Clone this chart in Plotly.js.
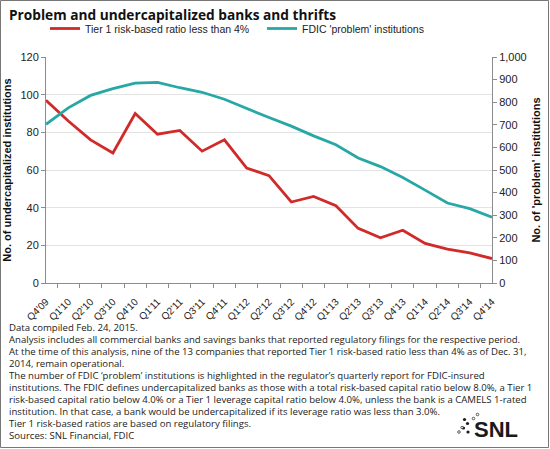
<!DOCTYPE html>
<html>
<head>
<meta charset="utf-8">
<script src="https://cdn.plot.ly/plotly-3.0.1.min.js"></script>
<style>
  html, body { margin: 0; padding: 0; background: #fff; }
  #chart { width: 550px; height: 449px; }
</style>
</head>
<body>
<div id="chart"></div>
<script>
// Quarter labels, Q4 2009 through Q4 2014
const quarters = ["Q4'09","Q1'10","Q2'10","Q3'10","Q4'10","Q1'11","Q2'11","Q3'11","Q4'11",
  "Q1'12","Q2'12","Q3'12","Q4'12","Q1'13","Q2'13","Q3'13","Q4'13","Q1'14","Q2'14","Q3'14","Q4'14"];

// Banks and thrifts reporting a Tier 1 risk-based ratio below 4% (left axis)
const tier1Below4 = [97, 86, 76, 69, 90, 79, 81, 70, 76, 61, 57, 43, 46, 41, 29, 24, 28, 21, 18, 16, 13];

// FDIC 'problem' institutions (right axis)
const fdicProblem = [702, 775, 830, 860, 884, 888, 864, 844, 813, 772, 732, 694, 651, 612, 553, 515, 467, 411, 354, 329, 291];

const seriesNames = ["Tier 1 risk-based ratio less than 4%", "FDIC 'problem' institutions"];

const chartTitle = "Problem and undercapitalized banks and thrifts";
const leftAxisTitle = "No. of undercapitalized institutions";
const rightAxisTitle = "No. of 'problem' institutions";

const notes = [
  "Data compiled Feb. 24, 2015.",
  "Analysis includes all commercial banks and savings banks that reported regulatory filings for the respective period.",
  "At the time of this analysis, nine of the 13 companies that reported Tier 1 risk-based ratio less than 4% as of Dec. 31,",
  "2014, remain operational.",
  "The number of FDIC \u2018problem\u2019 institutions is highlighted in the regulator\u2019s quarterly report for FDIC-insured",
  "institutions. The FDIC defines undercapitalized banks as those with a total risk-based capital ratio below 8.0%, a Tier 1",
  "risk-based capital ratio below 4.0% or a Tier 1 leverage capital ratio below 4.0%, unless the bank is a CAMELS 1-rated",
  "institution. In that case, a bank would be undercapitalized if its leverage ratio was less than 3.0%.",
  "Tier 1 risk-based ratios are based on regulatory filings.",
  "Sources: SNL Financial, FDIC"
];

const W = 550, H = 449;
const M = { l: 46, r: 58, t: 57, b: 166 };
const plotH = H - M.t - M.b;
const plotW = W - M.l - M.r;
// pixel -> paper helpers for page furniture
const px = x => (x - M.l) / plotW;
const py = y => (H - M.b - y) / plotH;

const axisGrey = "#8c8c8c";
const arial = "Liberation Sans, Arial, sans-serif";
const humanist = "Open Sans, Noto Sans, sans-serif";

const traces = [
  {
    x: quarters, y: tier1Below4, name: seriesNames[0], type: "scatter", mode: "lines",
    line: { color: "#d02a29", width: 2.8 }, yaxis: "y"
  },
  {
    x: quarters, y: fdicProblem, name: seriesNames[1], type: "scatter", mode: "lines",
    line: { color: "#27a8a6", width: 2.8 }, yaxis: "y2"
  }
];

const annotations = [
  {
    text: "<b>" + chartTitle + "</b>", xref: "paper", yref: "paper",
    x: px(7), y: py(14), xanchor: "left", yanchor: "middle", showarrow: false,
    font: { family: humanist, size: 13.7, color: "#111" }
  }
];
notes.forEach((line, i) => {
  annotations.push({
    text: line, xref: "paper", yref: "paper",
    x: px(7), y: py(327 + i * 12.1), xanchor: "left", yanchor: "middle", showarrow: false,
    font: { family: humanist, size: 9.6, color: "#222" }
  });
});
annotations.push({
  text: "<b>SNL</b>", xref: "paper", yref: "paper",
  x: px(472), y: py(429), xanchor: "left", yanchor: "middle", showarrow: false,
  font: { family: arial, size: 22, color: "#1a1a1a" }
});

// logo dots: filled and hollow circles
const dots = [
  [464.5, 419.5, 1.6, true], [467.5, 423.5, 1.6, true], [463.5, 428, 1.6, true], [468, 432, 1.6, true],
  [459, 432, 1.3, false], [473.5, 418.5, 1.3, false], [477.5, 414.5, 1.3, false], [462, 427.5, 1.2, false]
];
const shapes = [
  { type: "rect", xref: "paper", yref: "paper", x0: px(0.5), x1: px(548.5), y0: py(0.5), y1: py(447.5),
    line: { color: "#777", width: 1 }, fillcolor: "rgba(0,0,0,0)", layer: "below" }
];
dots.forEach(d => {
  shapes.push({
    type: "circle", xref: "paper", yref: "paper",
    x0: px(d[0] - d[2]), x1: px(d[0] + d[2]), y0: py(d[1] + d[2]), y1: py(d[1] - d[2]),
    line: { color: "#333", width: d[3] ? 0 : 0.8 }, fillcolor: d[3] ? "#1a1a1a" : "#fff"
  });
});

const layout = {
  width: W, height: H,
  margin: M,
  paper_bgcolor: "#fff", plot_bgcolor: "#fff",
  font: { family: arial, size: 11, color: "#222" },
  showlegend: true,
  legend: {
    orientation: "h", x: px(45), y: py(28.5), xanchor: "left", yanchor: "middle",
    font: { family: arial, size: 10.5, color: "#222" }, itemwidth: 30, entrywidth: 172,
    bgcolor: "rgba(0,0,0,0)"
  },
  xaxis: {
    type: "category", showgrid: false, showline: true, linecolor: axisGrey, linewidth: 1,
    ticks: "outside", tickson: "boundaries", ticklen: 4, tickcolor: axisGrey,
    tickangle: -45, ticklabelstandoff: 8,
    tickfont: { family: arial, size: 10, color: "#222" }, zeroline: false, automargin: false
  },
  yaxis: {
    range: [0, 120], dtick: 20, showgrid: true, gridcolor: "#e3e3e3", gridwidth: 1,
    showline: true, linecolor: axisGrey, ticks: "outside", ticklen: 4, tickcolor: axisGrey,
    zeroline: false, automargin: false, tickfont: { family: arial, size: 11, color: "#222" },
    title: { text: "<b>" + leftAxisTitle + "</b>", font: { family: arial, size: 11, color: "#111" }, standoff: 6 }
  },
  yaxis2: {
    range: [0, 1000], dtick: 100, overlaying: "y", side: "right", showgrid: false,
    showline: true, linecolor: axisGrey, ticks: "outside", ticklen: 4, tickcolor: axisGrey,
    zeroline: false, automargin: false, tickformat: ",d", tickfont: { family: arial, size: 11, color: "#222" },
    title: { text: "<b>" + rightAxisTitle + "</b>", font: { family: arial, size: 11, color: "#111" }, standoff: 6 }
  },
  annotations: annotations,
  shapes: shapes
};

Plotly.newPlot("chart", traces, layout, { displayModeBar: false, staticPlot: true });
</script>
</body>
</html>
